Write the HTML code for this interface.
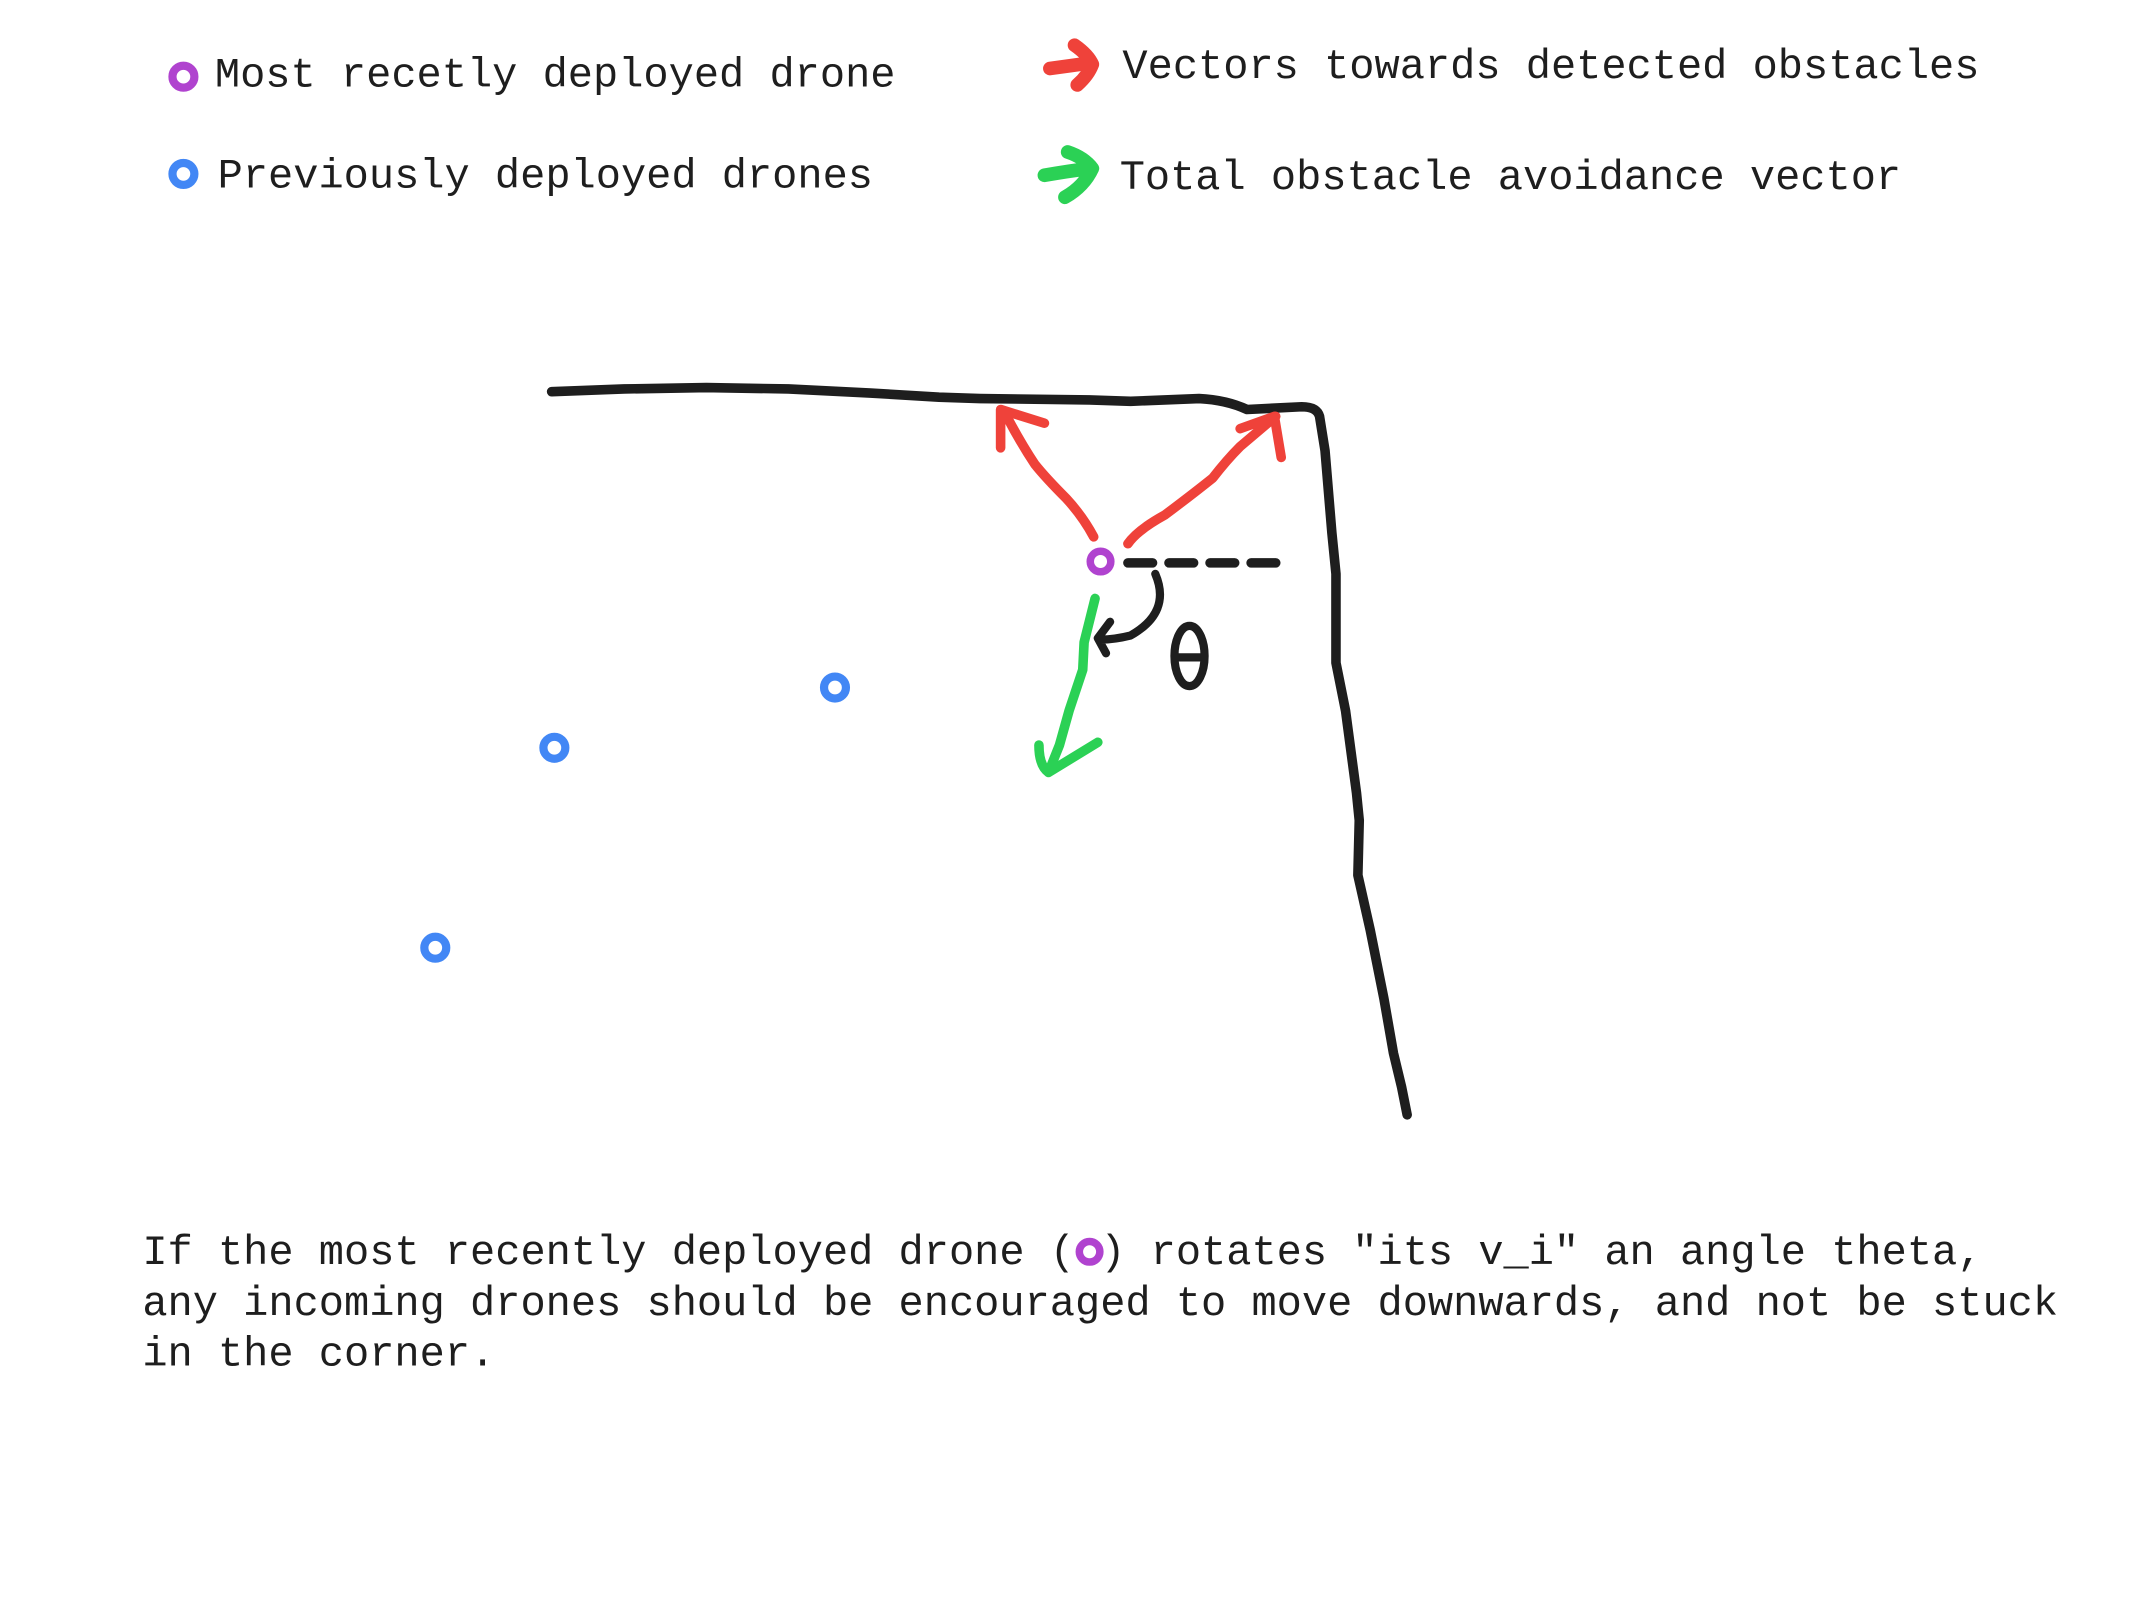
<!DOCTYPE html>
<html><head><meta charset="utf-8"><style>
html,body{margin:0;padding:0;background:#fff;}
svg{display:block;}
text{font-family:"Liberation Mono",monospace;font-size:30.7px;fill:#1e1e1e;}
</style></head><body>
<svg width="2134" height="1601" viewBox="0 0 1559 1169" preserveAspectRatio="none" xmlns="http://www.w3.org/2000/svg">
<g fill="none" stroke-linecap="round" stroke-linejoin="round">
  <circle cx="134" cy="56" r="8" stroke="#b043cf" stroke-width="6"/>
  <circle cx="134" cy="127" r="8" stroke="#4287f5" stroke-width="6"/>
  <path d="M767,50 Q782,48 796,46 M785,33 Q795,40 798,47 Q795,55 787,62" stroke="#ef423a" stroke-width="10"/>
  <path d="M763,128 Q780,125 796,123 M780,111 Q792,115 798,123 Q792,136 778,144" stroke="#2bd155" stroke-width="10"/>
  <g transform="translate(-4,-1)">
  <path d="M407,287 L460,285 L520,284 L580,285 L640,288 L690,291 L720,292 L800,293 L830,294 L880,292 Q900,293 915,300 L955,298 Q966,298 968,305 L972,330 L977,390 L980,420 L980,485 L987,520 L995,580 L997,600 L996,640 L1005,680 L1015,730 L1022,770 L1028,795 L1032,815" stroke="#1e1e1e" stroke-width="7"/>
  <path d="M803,393 Q795,378 783,365 Q768,350 760,340 Q750,325 740,306 M735,328 L735,300 L767,310" stroke="#ef423a" stroke-width="7"/>
  <path d="M828,398 Q835,388 855,377 Q875,362 890,350 Q900,337 910,327 L936,305 M910,314 L935,305 L940,335" stroke="#ef423a" stroke-width="7"/>
  <path d="M804,438 L796,470 L795,490 L785,520 L778,545 L770,565 M763,545 Q763,560 770,565 L806,543" stroke="#2bd155" stroke-width="7"/>
  <path d="M828,412 L948,412" stroke="#1e1e1e" stroke-width="7" stroke-dasharray="18,12"/>
  <path d="M848,420 Q860,448 830,465 Q818,468 808,468 M815,455 L806,467 L812,478" stroke="#1e1e1e" stroke-width="6"/>
  <g stroke="#1e1e1e" stroke-width="6">
    <ellipse cx="873" cy="480" rx="11" ry="22"/>
    <path d="M863,481 L883,481"/>
  </g>
  <circle cx="808" cy="411" r="7.5" stroke="#b043cf" stroke-width="5.5"/>
  </g>
  <g id="drones"></g>
  <circle cx="796" cy="914" r="7.5" stroke="#b043cf" stroke-width="5.5"/>
</g>
<text x="157" y="63">Most recetly deployed drone</text>
<text x="159" y="137">Previously deployed drones</text>
<text x="820" y="57">Vectors towards detected obstacles</text>
<text x="818" y="138">Total obstacle avoidance vector</text>
<text xml:space="preserve"><tspan x="104" y="923">If the most recently deployed drone ( ) rotates "its v_i" an angle theta,</tspan><tspan x="104" y="960">any incoming drones should be encouraged to move downwards, and not be stuck</tspan><tspan x="104" y="997">in the corner.</tspan></text>
</svg>
<script>
const droneX = [610, 405, 318];
const droneY = [502, 546, 692];
const g = document.getElementById('drones');
for (let i = 0; i < droneX.length; i++) {
  const c = document.createElementNS('http://www.w3.org/2000/svg', 'circle');
  c.setAttribute('cx', droneX[i]);
  c.setAttribute('cy', droneY[i]);
  c.setAttribute('r', 8);
  c.setAttribute('stroke', '#4287f5');
  c.setAttribute('stroke-width', 6);
  
  
  g.appendChild(c);
}
</script>
</body></html>
